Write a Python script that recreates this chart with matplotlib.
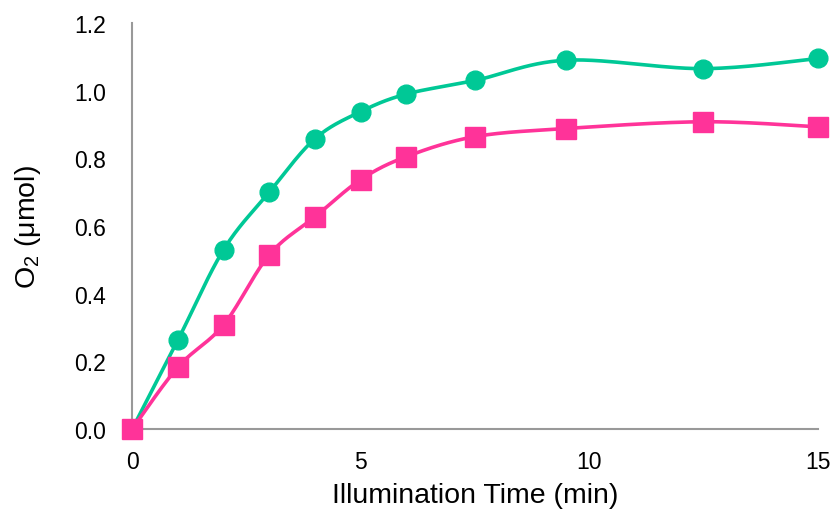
import numpy as np
import matplotlib
matplotlib.use('Agg')
import matplotlib.pyplot as plt
from matplotlib.ticker import FormatStrFormatter

plt.rcParams['font.family'] = ['Liberation Sans', 'DejaVu Sans']
plt.rcParams['mathtext.fontset'] = 'custom'
plt.rcParams['mathtext.rm'] = 'Liberation Sans'
plt.rcParams['mathtext.it'] = 'Liberation Sans:italic'

# illumination time (min) and evolved O2 (umol)
time_min = [0, 1, 2, 3, 4, 5, 6, 7.5, 9.5, 12.5, 15]
o2_green = [0.0, 0.263, 0.53, 0.70, 0.858, 0.938, 0.99, 1.03, 1.09, 1.065, 1.095]
o2_pink = [0.0, 0.183, 0.308, 0.515, 0.627, 0.737, 0.805, 0.864, 0.888, 0.908, 0.893]

GREEN = '#00C896'
PINK = '#FF3399'


def smooth(x, y, n=30, tension=0.5):
    # cardinal spline through the points, like a spreadsheet "smoothed line"
    x = np.asarray(x, float)
    y = np.asarray(y, float)
    px = np.concatenate([[x[0]], x, [x[-1]]])
    py = np.concatenate([[y[0]], y, [y[-1]]])
    xs, ys = [], []
    t = np.linspace(0, 1, n)
    h00 = 2 * t**3 - 3 * t**2 + 1
    h10 = t**3 - 2 * t**2 + t
    h01 = -2 * t**3 + 3 * t**2
    h11 = t**3 - t**2
    for i in range(1, len(px) - 2):
        mx0 = tension * (px[i + 1] - px[i - 1])
        my0 = tension * (py[i + 1] - py[i - 1])
        mx1 = tension * (px[i + 2] - px[i])
        my1 = tension * (py[i + 2] - py[i])
        xs.append(h00 * px[i] + h10 * mx0 + h01 * px[i + 1] + h11 * mx1)
        ys.append(h00 * py[i] + h10 * my0 + h01 * py[i + 1] + h11 * my1)
    return np.concatenate(xs), np.concatenate(ys)


fig = plt.figure(figsize=(8.37, 5.10), dpi=100)
ax = fig.add_axes([0.158, 0.157, 0.819, 0.796])

gx, gy = smooth(time_min, o2_green)
px_, py_ = smooth(time_min, o2_pink)
ax.plot(gx, gy, color=GREEN, lw=2.6, zorder=2, clip_on=False)
ax.plot(time_min, o2_green, 'o', color=GREEN, ms=13.5, zorder=3, clip_on=False)
ax.plot(px_, py_, color=PINK, lw=2.6, zorder=4, clip_on=False)
ax.plot(time_min, o2_pink, 's', color=PINK, ms=14.5, zorder=5, clip_on=False)

ax.set_xlim(0, 15)
ax.set_ylim(0, 1.2)
ax.set_xticks([0, 5, 10, 15])
ax.set_yticks(np.arange(0, 1.21, 0.2))
ax.yaxis.set_major_formatter(FormatStrFormatter('%.1f'))
ax.tick_params(length=0, labelsize=16.5)
ax.tick_params(axis='x', pad=15)
ax.tick_params(axis='y', pad=19)

for side in ['top', 'right']:
    ax.spines[side].set_visible(False)
for side in ['left', 'bottom']:
    ax.spines[side].set_color('#999999')
    ax.spines[side].set_linewidth(1.5)

ax.set_xlabel('Illumination Time (min)', fontsize=20.5, labelpad=7)
ax.set_ylabel(r'O$_2$ ($\mathrm{\mu}$mol)', fontsize=20.5, labelpad=22)

fig.savefig('out.png', dpi=100)
